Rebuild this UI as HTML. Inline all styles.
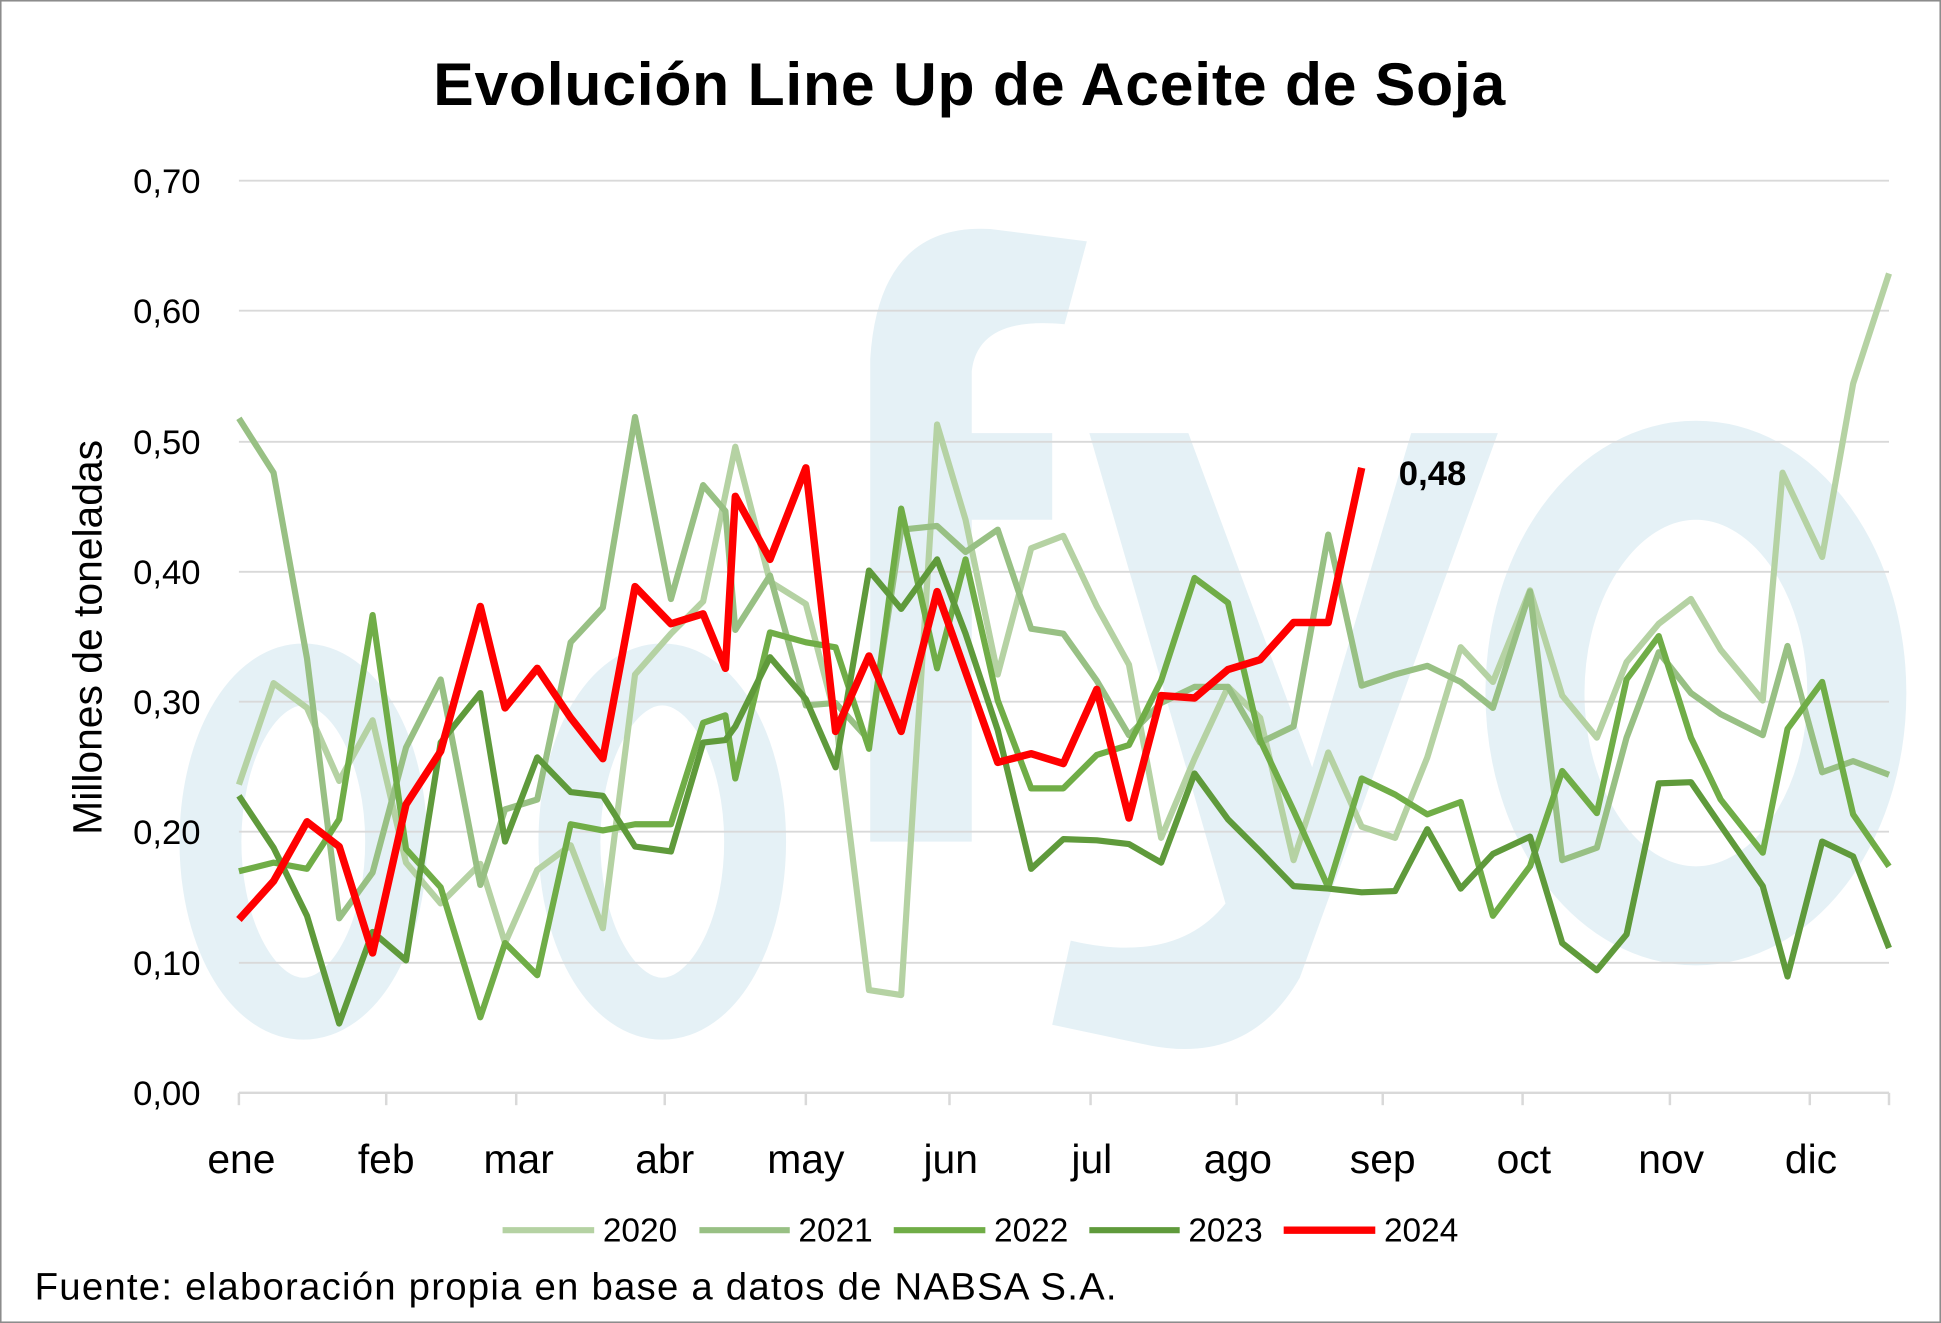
<!DOCTYPE html>
<html><head><meta charset="utf-8"><style>
html,body{margin:0;padding:0;background:#fff}
svg{display:block}
text{font-family:"Liberation Sans",sans-serif}
</style></head><body>
<svg width="1941" height="1323" viewBox="0 0 1568 1069" xmlns="http://www.w3.org/2000/svg" preserveAspectRatio="none">
<rect x="0.5" y="0.5" width="1567" height="1068" fill="#fff" stroke="#8c8c8c" stroke-width="1.5"/>
<!-- watermark -->
<g fill="none" stroke="#e5f1f6">
<ellipse cx="245" cy="680" rx="75" ry="135" stroke-width="50"/>
<ellipse cx="535" cy="680" rx="75" ry="135" stroke-width="50"/>
<ellipse cx="1370" cy="560" rx="130" ry="180" stroke-width="80"/>
</g>
<g fill="#e5f1f6">
<path d="M703 680 L703 290 Q710 180 800 185 L878 195 L860 262 Q790 255 785 300 L785 350 L850 350 L850 420 L785 420 L785 680 Z"/>
<path d="M880 350 L960 350 L1060 620 L1140 350 L1210 350 L1050 790 Q1010 860 930 845 L850 828 L865 760 Q950 780 990 730 Z"/>
</g>
<!-- grid -->
<g stroke="#d9d9d9" stroke-width="1.5">
<line x1="193" x2="1526" y1="146" y2="146"/><line x1="193" x2="1526" y1="251" y2="251"/>
<line x1="193" x2="1526" y1="357" y2="357"/><line x1="193" x2="1526" y1="462" y2="462"/>
<line x1="193" x2="1526" y1="567" y2="567"/><line x1="193" x2="1526" y1="672" y2="672"/>
<line x1="193" x2="1526" y1="778" y2="778"/>
</g>
<g stroke="#d9d9d9" stroke-width="2">
<line x1="193" x2="1526" y1="883" y2="883"/>
<line x1="193" x2="193" y1="883" y2="893"/><line x1="312" x2="312" y1="883" y2="893"/>
<line x1="417" x2="417" y1="883" y2="893"/><line x1="537" x2="537" y1="883" y2="893"/>
<line x1="651" x2="651" y1="883" y2="893"/><line x1="767" x2="767" y1="883" y2="893"/>
<line x1="881" x2="881" y1="883" y2="893"/><line x1="999" x2="999" y1="883" y2="893"/>
<line x1="1117" x2="1117" y1="883" y2="893"/><line x1="1230" x2="1230" y1="883" y2="893"/>
<line x1="1349" x2="1349" y1="883" y2="893"/><line x1="1462" x2="1462" y1="883" y2="893"/>
<line x1="1526" x2="1526" y1="883" y2="893"/>
</g>
<g fill="none" stroke-width="5" stroke-linejoin="round">
<polyline stroke="#b5d2a3" points="193,634 221,552 248,572 274,631 301,582 328,697 356,730 388,698 408,762 434,703 461,683 487,750 513,545 542,512 568,486 594,361 622,470 651,488 675,580 702,800 728,804 757,343 780,420 806,545 833,443 859,433 886,490 912,537 938,677 965,613 992,555 1018,580 1045,695 1073,608 1100,668 1127,677 1153,612 1180,523 1206,551 1236,477 1262,562 1290,596 1314,535 1340,504 1366,484 1390,525 1424,566 1440,382 1472,450 1497,310 1526,221"/>
<polyline stroke="#98c084" points="193,338 221,382 248,532 274,742 301,705 328,604 356,549 388,715 408,654 434,646 461,519 487,491 513,337 542,484 568,392 586,413 594,509 622,465 651,570 675,568 702,598 728,428 757,425 780,446 806,428 833,508 859,512 886,550 912,594 938,568 965,555 992,555 1018,600 1045,587 1073,432 1100,554 1127,545 1153,538 1180,551 1206,572 1236,478 1262,695 1290,685 1314,596 1340,527 1366,560 1390,577 1424,594 1444,522 1472,624 1497,615 1526,626"/>
<polyline stroke="#70ad47" points="193,704 221,697 248,702 274,662 301,497 328,686 356,717 388,822 408,762 434,788 461,666 487,671 513,666 542,666 568,584 586,578 594,629 622,511 651,519 675,523 702,605 728,411 757,540 780,452 806,566 833,637 859,637 886,610 912,602 938,550 965,467 992,487 1018,598 1045,655 1073,717 1100,629 1127,642 1153,658 1180,648 1206,740 1236,700 1262,623 1290,657 1314,549 1340,514 1366,596 1390,646 1424,689 1444,589 1472,551 1497,658 1526,700"/>
<polyline stroke="#5f9a3b" points="193,643 221,685 248,740 274,827 301,753 328,776 356,600 388,560 408,680 434,612 461,640 487,643 513,684 542,688 568,600 586,598 594,587 622,531 651,565 675,620 702,461 728,492 757,452 780,512 806,590 833,702 859,678 886,679 912,682 938,697 965,625 992,662 1018,688 1045,716 1073,718 1100,721 1127,720 1153,670 1180,718 1206,690 1236,676 1262,762 1290,784 1314,755 1340,633 1366,632 1390,667 1424,716 1444,789 1472,680 1497,692 1526,766"/>
<polyline stroke="#ff0000" stroke-width="6" points="193,743 221,712 248,664 274,684 301,770 328,650 356,607 388,490 408,572 434,540 461,580 487,613 513,474 542,504 568,496 586,540 594,401 622,452 651,378 675,591 702,530 728,591 757,478 806,616 833,609 859,617 886,557 912,661 938,562 965,564 992,541 1018,533 1045,503 1073,503 1100,378"/>
</g>
<text x="783" y="85" font-size="49" font-weight="bold" text-anchor="middle" textLength="866">Evolución Line Up de Aceite de Soja</text>
<g font-size="28" text-anchor="end">
<text x="162" y="156">0,70</text><text x="162" y="261">0,60</text><text x="162" y="367">0,50</text>
<text x="162" y="472">0,40</text><text x="162" y="577">0,30</text><text x="162" y="682">0,20</text>
<text x="162" y="788">0,10</text><text x="162" y="893">0,00</text>
</g>
<text transform="translate(82,515) rotate(-90)" font-size="33" text-anchor="middle">Millones de toneladas</text>
<g font-size="33" text-anchor="middle">
<text x="195" y="948">ene</text><text x="312" y="948">feb</text><text x="419" y="948">mar</text>
<text x="537" y="948">abr</text><text x="651" y="948">may</text><text x="768" y="948">jun</text>
<text x="882" y="948">jul</text><text x="1000" y="948">ago</text><text x="1117" y="948">sep</text>
<text x="1231" y="948">oct</text><text x="1350" y="948">nov</text><text x="1463" y="948">dic</text>
</g>
<text x="1130" y="392" font-size="28" font-weight="bold">0,48</text>
<g stroke-width="5">
<line x1="406" x2="480" y1="994" y2="994" stroke="#b5d2a3"/>
<line x1="565" x2="638" y1="994" y2="994" stroke="#98c084"/>
<line x1="722" x2="796" y1="994" y2="994" stroke="#70ad47"/>
<line x1="880" x2="953" y1="994" y2="994" stroke="#5f9a3b"/>
<line x1="1037" x2="1111" y1="994" y2="994" stroke="#ff0000" stroke-width="6"/>
</g>
<g font-size="27">
<text x="487" y="1003">2020</text><text x="645" y="1003">2021</text><text x="803" y="1003">2022</text>
<text x="960" y="1003">2023</text><text x="1118" y="1003">2024</text>
</g>
<text x="28" y="1050" font-size="31" textLength="874">Fuente: elaboración propia en base a datos de NABSA S.A.</text>
</svg>
</body></html>
